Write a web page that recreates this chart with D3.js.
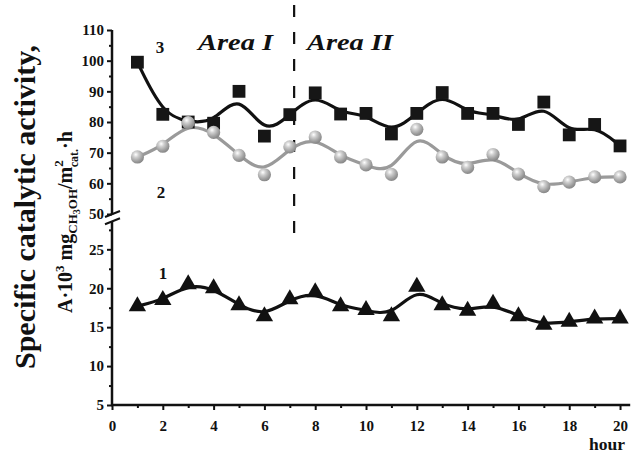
<!DOCTYPE html>
<html><head><meta charset="utf-8">
<script src="https://cdn.jsdelivr.net/npm/d3@7"></script>
<style>
body{margin:0;background:#fff}
svg{display:block}
text{font-family:"Liberation Serif","Times New Roman",serif;font-weight:bold;fill:#111}
</style>
</head><body>
<svg id="c" width="632" height="454"></svg>
<script>
// ---- data ----
const hours = [1,2,3,4,5,6,7,8,9,10,11,12,13,14,15,16,17,18,19,20];
const series3 = [99.5,82.5,80.0,79.6,90.0,75.4,82.4,89.5,82.6,82.8,76.1,82.8,89.6,82.8,82.8,79.2,86.5,75.8,79.2,72.2];
const series2 = [68.6,72.1,79.8,76.6,69.1,62.8,71.9,75.1,68.6,66.0,62.9,77.6,68.6,65.2,69.4,63.0,58.9,60.4,62.1,62.1];
const series1 = [17.7,18.5,20.5,20.0,17.8,16.4,18.6,19.5,17.7,17.2,16.4,20.2,17.8,17.1,18.0,16.4,15.3,15.7,16.1,16.1];
const seriesLabels = ["1","2","3"];
const areaLabels = ["Area I","Area II"];
const areaBoundary = 7.17;
const xTicks = [0,2,4,6,8,10,12,14,16,18,20];
const xMinor = [1,3,5,7,9,11,13,15,17,19];
const yUpperTicks = [50,60,70,80,90,100,110];
const yUpperMinor = [55,65,75,85,95,105];
const yLowerTicks = [5,10,15,20,25];
const yLowerMinor = [7.5,12.5,17.5,22.5,27.5];
const yTitle = "Specific catalytic activity,";
const xTitle = "hour";

// ---- scales ----
const svg = d3.select("#c");
const x = d3.scaleLinear().domain([0,20.4]).range([112,630.2]);
const yU = d3.scaleLinear().domain([50,110]).range([214,30]);
const yL = d3.scaleLinear().domain([5,28.6]).range([405,221.3]);

const defs = svg.append("defs");
const grad = defs.append("radialGradient").attr("id","ball").attr("cx","38%").attr("cy","32%").attr("r","70%");
grad.append("stop").attr("offset","0%").attr("stop-color","#ffffff");
grad.append("stop").attr("offset","30%").attr("stop-color","#d0d0d0");
grad.append("stop").attr("offset","75%").attr("stop-color","#9c9c9c");
grad.append("stop").attr("offset","100%").attr("stop-color","#858585");

// ---- axes ----
const ax = svg.append("g").attr("class","axes");
const axisStroke = "#111";
// x axis
const gx = ax.append("g").attr("transform","translate(0,405)")
  .call(d3.axisBottom(x).tickValues(xTicks).tickSize(5).tickPadding(4).tickFormat(d3.format("d")));
gx.select(".domain").remove();
gx.selectAll("line").attr("stroke",axisStroke).attr("stroke-width",2);
gx.selectAll("text").attr("y",26).attr("dy",0).style("font-size","15px");
const gxm = ax.append("g").attr("transform","translate(0,405)")
  .call(d3.axisBottom(x).tickValues(xMinor).tickSize(3).tickFormat(""));
gxm.select(".domain").remove();
gxm.selectAll("line").attr("stroke",axisStroke).attr("stroke-width",2);
ax.append("line").attr("x1",x(0)-1).attr("x2",x(20.4)).attr("y1",405).attr("y2",405)
  .attr("stroke",axisStroke).attr("stroke-width",2.5);

function yAxis(scale, major, minor){
  const g = ax.append("g").attr("transform","translate(112,0)")
    .call(d3.axisLeft(scale).tickValues(major).tickSize(5).tickPadding(3).tickFormat(d3.format("d")));
  g.select(".domain").remove();
  g.selectAll("line").attr("stroke",axisStroke).attr("stroke-width",2);
  g.selectAll("text").style("font-size","15px");
  const gm = ax.append("g").attr("transform","translate(112,0)")
    .call(d3.axisLeft(scale).tickValues(minor).tickSize(3).tickFormat(""));
  gm.select(".domain").remove();
  gm.selectAll("line").attr("stroke",axisStroke).attr("stroke-width",2);
  const r = scale.range();
  ax.append("line").attr("x1",112).attr("x2",112).attr("y1",r[0]+1).attr("y2",r[1])
    .attr("stroke",axisStroke).attr("stroke-width",2.5);
}
yAxis(yU, yUpperTicks, yUpperMinor);
yAxis(yL, yLowerTicks, yLowerMinor);
// break marks
[yU.range()[0], yL.range()[1]].forEach(yy=>{
  ax.append("line").attr("x1",105).attr("x2",120).attr("y1",yy+3).attr("y2",yy-3)
    .attr("stroke",axisStroke).attr("stroke-width",2);
});

// ---- dashed boundary ----
svg.append("line").attr("x1",x(areaBoundary)).attr("x2",x(areaBoundary))
  .attr("y1",5).attr("y2",233).attr("stroke","#111").attr("stroke-width",2.2)
  .attr("stroke-dasharray","12,15");

// ---- lines ----
const line = (scale)=>d3.line().x((d,i)=>x(hours[i])).y(d=>scale(d)).curve(d3.curveBasis);
svg.append("path").datum(series2).attr("d",line(yU)).attr("fill","none")
  .attr("stroke","#9a9a9a").attr("stroke-width",3.2);
svg.append("path").datum(series3).attr("d",line(yU)).attr("fill","none")
  .attr("stroke","#111").attr("stroke-width",3.2);
svg.append("path").datum(series1).attr("d",line(yL)).attr("fill","none")
  .attr("stroke","#111").attr("stroke-width",3.2);

// ---- markers ----
svg.append("g").selectAll("rect").data(series3).join("rect")
  .attr("x",(d,i)=>x(hours[i])-6.4).attr("y",d=>yU(d)-6.4)
  .attr("width",12.8).attr("height",12.8).attr("fill","#161616");
svg.append("g").selectAll("circle").data(series2).join("circle")
  .attr("cx",(d,i)=>x(hours[i])).attr("cy",d=>yU(d)).attr("r",6.6)
  .attr("fill","url(#ball)");
const tri = d3.symbol().type(d3.symbolTriangle).size(130);
svg.append("g").selectAll("path").data(series1).join("path")
  .attr("transform",(d,i)=>`translate(${x(hours[i])},${yL(d)})`)
  .attr("d",tri).attr("fill","#111");

// ---- labels ----
svg.append("text").attr("x",160).attr("y",53).attr("text-anchor","middle").style("font-size","17px").text(seriesLabels[2]);
svg.append("text").attr("x",161).attr("y",198).attr("text-anchor","middle").style("font-size","17px").text(seriesLabels[1]);
svg.append("text").attr("x",163).attr("y",279).attr("text-anchor","middle").style("font-size","17px").text(seriesLabels[0]);

svg.append("text").attr("x",198).attr("y",50).style("font-size","23px").style("font-style","italic")
  .attr("textLength",75).attr("lengthAdjust","spacingAndGlyphs").text(areaLabels[0]);
svg.append("text").attr("x",307).attr("y",50).style("font-size","23px").style("font-style","italic")
  .attr("textLength",86).attr("lengthAdjust","spacingAndGlyphs").text(areaLabels[1]);

svg.append("text").attr("x",589).attr("y",450).style("font-size","17.5px").text(xTitle);

// y title line 1
svg.append("text").attr("transform","translate(35,207) rotate(-90)").attr("text-anchor","middle")
  .style("font-size","30px").text(yTitle);
// y title line 2
const t2 = svg.append("text").attr("transform","translate(72,313) rotate(-90)").style("font-size","20px");
t2.append("tspan").text("A\u00b710");
t2.append("tspan").attr("dy",-8).style("font-size","13px").text("3");
t2.append("tspan").attr("dy",8).text(" mg");
t2.append("tspan").attr("dy",5).style("font-size","13px").text("CH");
t2.append("tspan").attr("dy",3).style("font-size","10px").text("3");
t2.append("tspan").attr("dy",-3).style("font-size","13px").text("OH");
t2.append("tspan").attr("dy",-5).text("/m");
t2.append("tspan").attr("dy",-9).style("font-size","13px").text("2");
t2.append("tspan").attr("dx",-7).attr("dy",15).style("font-size","12px").text("cat.");
t2.append("tspan").attr("dy",-6).text("\u00b7h");
</script>
</body></html>
